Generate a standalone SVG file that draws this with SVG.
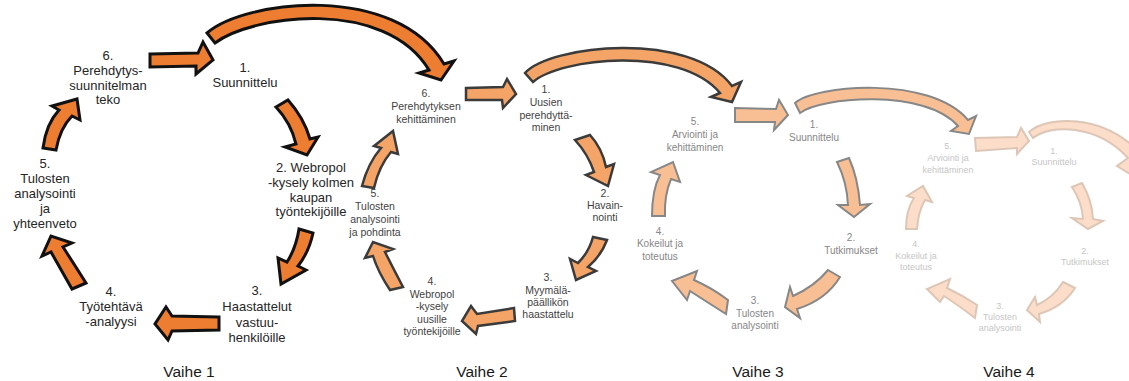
<svg xmlns="http://www.w3.org/2000/svg" width="1129" height="381" viewBox="0 0 1129 381">
<style>
text{font-family:"Liberation Sans",Arial,sans-serif;text-anchor:middle}
.t1{font-size:13px;fill:#262626}
.t2{font-size:10.5px;fill:#3f3f3f}
.t3{font-size:10px;fill:#878787}
.t4{font-size:9px;fill:#c6c6c6}
.lab{font-size:15.5px;fill:#1a1a1a}
.a1{fill:#ED7D31;stroke:#111;stroke-width:3;stroke-linejoin:miter}
.a2{fill:#F3A466;stroke:#3b3b3b;stroke-width:2.5;stroke-linejoin:miter}
.a3{fill:#F8BF95;stroke:#878787;stroke-width:2;stroke-linejoin:miter}
.a4{fill:#FCDDC9;stroke:#DDC6B6;stroke-width:2;stroke-linejoin:miter}
</style>
<rect width="1129" height="381" fill="#fff"/>
<g id="connectors">
<!-- Vaihe 1 -->
<path class="a1" d="M150,54 L198,53 L203,42 L213,60 L196,74 L196,66 L150,67 Z"/>
<path class="a1" d="M207,33 C245,0 395,-18 444,64 L454,61 L441,80 L419,73 L429,70 C385,-3 252,15 215,43 Z"/>
<path class="a1" d="M276,107 L288,100 Q304,118 310,139 L318,137 L307,155 L285,147 L296,144 Q291,123 276,107 Z"/>
<path class="a1" d="M299,229 L313,233 Q309,252 298,266 L306,270 L281,284 L278,258 L287,262 Q296,248 299,229 Z"/>
<path class="a1" d="M219,317 L172,316 L166,307 L155,324 L168,340 L172,331 L219,330 Z"/>
<path class="a1" d="M86,283 L72,289 Q60,268 51,252 L42,256 L51,236 L72,243 L63,247 Q74,264 86,283 Z"/>
<path class="a1" d="M43,148 Q46,124 59,110 L52,106 L77,99 L80,120 L72,116 Q60,128 56,150 Z"/>
<!-- Vaihe 2 -->
<path class="a2" d="M466,88 L503,87 L507,79 L516,94 L503,108 L502,100 L466,100 Z"/>
<path class="a2" d="M525,73 C550,45 690,30 732,86 L741,82 L732,102 L711,97 L720,93 C680,45 560,58 533,82 Z"/>
<path class="a2" d="M575,140 L590,135 Q602,148 606,167 L614,164 L608,186 L586,175 L594,172 Q588,154 575,140 Z"/>
<path class="a2" d="M593,237 L607,240 Q601,256 588,267 L596,271 L576,280 L570,259 L578,263 Q589,252 593,237 Z"/>
<path class="a2" d="M514,308 L477,314 L471,306 L462,321 L476,334 L478,326 L515,321 Z"/>
<path class="a2" d="M403,287 L390,290 Q378,272 373,256 L365,258 L373,242 L393,249 L385,252 Q393,268 403,287 Z"/>
<path class="a2" d="M362,186 Q368,163 381,148 L374,146 L393,131 L398,154 L391,152 Q379,166 374,188 Z"/>
<!-- Vaihe 3 -->
<path class="a3" d="M735,108 L776,109 L779,100 L788,115 L774,130 L775,122 L735,122 Z"/>
<path class="a3" d="M795,103 C815,85 930,75 968,120 L976,116 L969,134 L951,131 L958,126 C925,88 820,97 800,113 Z"/>
<path class="a3" d="M837,162 L849,158 Q858,178 860,205 L870,204 L854,217 L838,205 L848,205 Q847,182 837,162 Z"/>
<path class="a3" d="M828,270 L840,277 Q826,300 797,309 L800,318 L785,307 L790,287 L793,296 Q815,286 828,270 Z"/>
<path class="a3" d="M728,300 L726,314 Q707,302 690,291 L687,300 L672,281 L697,271 L694,280 Q712,288 728,300 Z"/>
<path class="a3" d="M652,216 Q652,190 660,175 L651,172 L673,162 L680,182 L671,179 Q664,196 665,216 Z"/>
<!-- Vaihe 4 -->
<path class="a4" d="M975,138 L1017,137 L1021,128 L1029,141 L1017,154 L1017,148 L976,151 Z"/>
<path class="a4" d="M1029,132 C1048,115 1102,115 1137,150 L1146,147 L1140,180 L1117,166 L1128,158 C1097,124 1050,124 1033,138 Z"/>
<path class="a4" d="M1072,187 L1082,183 Q1092,200 1093,219 L1103,221 L1088,229 L1072,218 L1083,219 Q1082,202 1072,187 Z"/>
<path class="a4" d="M1063,282 L1075,288 Q1063,307 1039,314 L1040,322 L1027,310 L1035,297 L1037,305 Q1053,298 1063,282 Z"/>
<path class="a4" d="M977,305 L975,318 Q958,305 944,296 L940,302 L927,289 L950,279 L947,288 Q962,295 977,305 Z"/>
<path class="a4" d="M906,229 Q906,210 914,198 L907,196 L923,186 L932,202 L925,200 Q918,212 917,229 Z"/>
</g>
<!-- Vaihe 1 nodes -->
<g id="v1-n6" class="t1"><text x="108" y="60">6.</text><text x="108" y="75">Perehdytys-</text><text x="108" y="90">suunnitelman</text><text x="108" y="104">teko</text></g>
<g id="v1-n1" class="t1"><text x="245" y="72">1.</text><text x="245" y="87">Suunnittelu</text></g>
<g id="v1-n2" class="t1"><text x="311" y="172">2. Webropol</text><text x="311" y="187">-kysely kolmen</text><text x="311" y="202">kaupan</text><text x="311" y="216">työntekijöille</text></g>
<g id="v1-n3" class="t1"><text x="257" y="295">3.</text><text x="257" y="311">Haastattelut</text><text x="257" y="327">vastuu-</text><text x="257" y="342">henkilöille</text></g>
<g id="v1-n4" class="t1"><text x="111" y="296">4.</text><text x="111" y="311">Työtehtävä</text><text x="111" y="326">-analyysi</text></g>
<g id="v1-n5" class="t1"><text x="45" y="168">5.</text><text x="45" y="183">Tulosten</text><text x="45" y="198">analysointi</text><text x="45" y="213">ja</text><text x="45" y="228">yhteenveto</text></g>
<!-- Vaihe 2 nodes -->
<g id="v2-n6" class="t2"><text x="426" y="97">6.</text><text x="426" y="110">Perehdytyksen</text><text x="426" y="123">kehittäminen</text></g>
<g id="v2-n1" class="t2"><text x="546" y="93">1.</text><text x="546" y="106">Uusien</text><text x="546" y="119">perehdyttä-</text><text x="546" y="131">minen</text></g>
<g id="v2-n2" class="t2"><text x="605" y="197">2.</text><text x="605" y="209">Havain-</text><text x="605" y="221">nointi</text></g>
<g id="v2-n3" class="t2"><text x="548" y="281">3.</text><text x="548" y="294">Myymälä-</text><text x="548" y="306">päällikön</text><text x="548" y="318">haastattelu</text></g>
<g id="v2-n4" class="t2"><text x="432" y="285">4.</text><text x="432" y="298">Webropol</text><text x="432" y="310">-kysely</text><text x="432" y="323">uusille</text><text x="432" y="335">työntekijöille</text></g>
<g id="v2-n5" class="t2"><text x="375" y="197">5.</text><text x="375" y="210">Tulosten</text><text x="375" y="223">analysointi</text><text x="375" y="236">ja pohdinta</text></g>
<!-- Vaihe 3 nodes -->
<g id="v3-n5" class="t3"><text x="695" y="125">5.</text><text x="695" y="138">Arviointi ja</text><text x="695" y="151">kehittäminen</text></g>
<g id="v3-n1" class="t3"><text x="814" y="128">1.</text><text x="814" y="141">Suunnittelu</text></g>
<g id="v3-n2" class="t3"><text x="851" y="241">2.</text><text x="851" y="254">Tutkimukset</text></g>
<g id="v3-n3" class="t3"><text x="755" y="304">3.</text><text x="755" y="317">Tulosten</text><text x="755" y="329">analysointi</text></g>
<g id="v3-n4" class="t3"><text x="660" y="235">4.</text><text x="660" y="247">Kokeilut ja</text><text x="660" y="260">toteutus</text></g>
<!-- Vaihe 4 nodes -->
<g id="v4-n5" class="t4"><text x="948" y="149">5.</text><text x="948" y="161">Arviointi ja</text><text x="948" y="173">kehittäminen</text></g>
<g id="v4-n1" class="t4"><text x="1054" y="154">1.</text><text x="1054" y="165">Suunnittelu</text></g>
<g id="v4-n2" class="t4"><text x="1085" y="254">2.</text><text x="1085" y="265">Tutkimukset</text></g>
<g id="v4-n3" class="t4"><text x="1000" y="309">3.</text><text x="1000" y="320">Tulosten</text><text x="1000" y="331">analysointi</text></g>
<g id="v4-n4" class="t4"><text x="916" y="247">4.</text><text x="916" y="259">Kokeilut ja</text><text x="916" y="270">toteutus</text></g>
<!-- Phase labels -->
<g id="labels" class="lab"><text x="189" y="377">Vaihe 1</text><text x="482" y="377">Vaihe 2</text><text x="758" y="377">Vaihe 3</text><text x="1009" y="377">Vaihe 4</text></g>
</svg>
